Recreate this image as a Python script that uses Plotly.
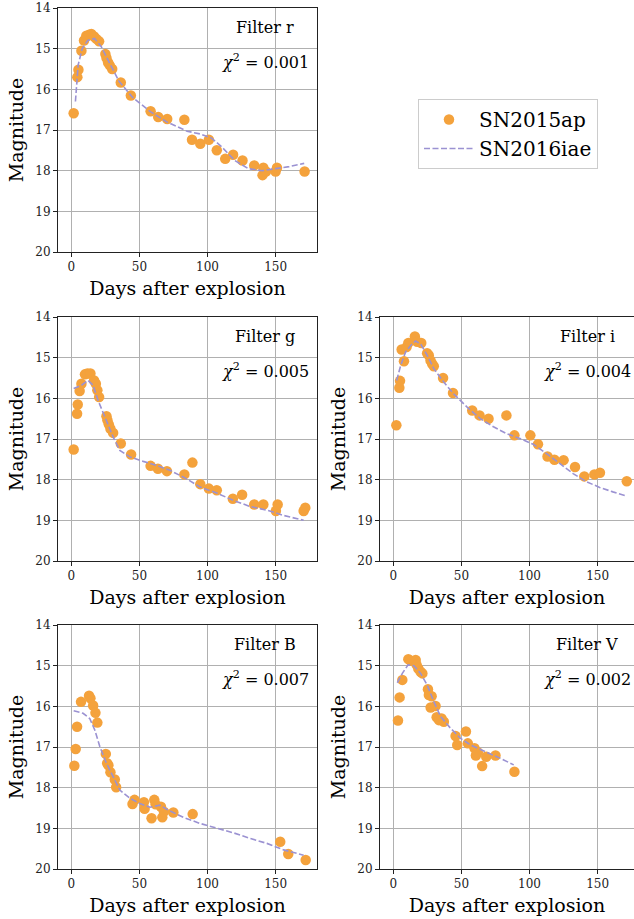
import plotly.graph_objects as go

# SN2015ap observed photometry and SN2016iae template, per filter
r_days = [1.7, 4.4, 5.2, 7.4, 9.3, 11, 13, 14.7, 16.7, 18.4, 20.4, 25, 25.8, 27, 28.2, 30,
          36.3, 43.7, 58.2, 63.8, 70.4, 83, 88.6, 94.7, 101, 106.8, 113, 118.8, 125.7,
          134.3, 140.4, 141, 142.9, 150, 151, 171.3]
r_mag = [16.59, 15.70, 15.52, 15.05, 14.80, 14.68, 14.66, 14.64, 14.70, 14.76, 14.82, 15.13,
         15.23, 15.34, 15.41, 15.50, 15.83, 16.15, 16.54, 16.68, 16.73, 16.75, 17.24, 17.34,
         17.24, 17.50, 17.71, 17.61, 17.75, 17.87, 18.11, 17.93, 18.02, 18.02, 17.93, 18.02]
r_tpl_days = [3, 5, 8, 12, 17, 22, 28, 35, 45, 58, 70, 85, 95, 103, 110, 120, 130, 140, 150, 160, 171]
r_tpl_mag = [16.3, 15.4, 15.0, 14.8, 14.75, 14.95, 15.35, 15.8, 16.2, 16.55, 16.8, 17.03,
             17.1, 17.2, 17.4, 17.75, 17.95, 18.0, 17.95, 17.9, 17.82]

g_days = [1.7, 4.2, 4.7, 6.1, 7.4, 10, 11.8, 14, 16.7, 18, 19.1, 20.4, 25.8, 26.5, 27.5, 28.7,
          30.7, 36.3, 43.9, 58.2, 63.6, 70.2, 83, 88.9, 94.7, 101, 106.8, 118.6, 125.4, 134.3,
          141, 150.2, 151.5, 170.6, 171.8]
g_mag = [17.26, 16.38, 16.15, 15.82, 15.64, 15.41, 15.39, 15.39, 15.56, 15.64, 15.80, 15.97,
         16.44, 16.54, 16.64, 16.75, 16.85, 17.11, 17.38, 17.66, 17.73, 17.79, 17.87, 17.58,
         18.11, 18.22, 18.26, 18.47, 18.37, 18.61, 18.61, 18.77, 18.61, 18.77, 18.69]
g_tpl_days = [1.7, 7.4, 12.3, 16, 19.6, 25.8, 30.7, 35.6, 43, 52.8, 62.6, 72.4, 84.7, 94.5,
              106.8, 119, 131.3, 143.6, 155.9, 170.6]
g_tpl_mag = [15.76, 15.68, 15.56, 15.68, 16.05, 16.54, 16.95, 17.28, 17.44, 17.55, 17.65,
             17.77, 17.98, 18.18, 18.33, 18.51, 18.66, 18.75, 18.88, 19.0]

i_days = [2.2, 4.4, 4.9, 6.1, 7.8, 9.7, 11, 15.8, 17.5, 20.5, 24.8, 26, 27.3, 28.5, 29.7,
          36.5, 43.8, 57.9, 63.3, 69.9, 83, 88.9, 100.6, 106.2, 113.2, 118.3, 125, 133.4,
          140.2, 147.6, 151.7, 171.4]
i_mag = [16.66, 15.74, 15.57, 14.80, 15.09, 14.74, 14.64, 14.48, 14.61, 14.64, 14.89, 14.94,
         15.07, 15.15, 15.21, 15.50, 15.87, 16.30, 16.42, 16.50, 16.42, 16.91, 16.91, 17.13,
         17.43, 17.51, 17.52, 17.69, 17.92, 17.87, 17.83, 18.04]
i_tpl_days = [2.4, 5.4, 9, 12.7, 16.3, 20, 24.8, 29.7, 37, 44.3, 54, 63.8, 73.5, 83.3, 93,
              102.8, 112.5, 122.2, 132, 141.7, 151.5, 161.2, 170.9]
i_tpl_mag = [15.56, 15.19, 14.86, 14.70, 14.59, 14.66, 14.94, 15.27, 15.60, 15.89, 16.21,
             16.50, 16.70, 16.87, 16.99, 17.13, 17.36, 17.60, 17.85, 18.05, 18.19, 18.30, 18.40]

B_days = [2.2, 3.2, 4.2, 7.1, 13, 14, 16, 17.7, 19.1, 25.3, 26.3, 27.2, 28.7, 31.9, 32.9,
          44.9, 46.4, 53.3, 53.8, 58.9, 60.9, 61.9, 65.8, 66.8, 68, 74.9, 89.1, 153.4, 159.3, 172.1]
B_mag = [17.46, 17.05, 16.50, 15.89, 15.74, 15.80, 15.98, 16.16, 16.40, 17.17, 17.40, 17.45,
         17.62, 17.80, 17.99, 18.40, 18.30, 18.36, 18.52, 18.75, 18.30, 18.41, 18.47, 18.73,
         18.59, 18.61, 18.65, 19.33, 19.63, 19.78]
B_tpl_days = [1.7, 8.6, 13.5, 17.2, 20.9, 25.8, 30.7, 35.6, 43, 50.3, 57.7, 65, 70, 82.2,
              94.5, 106.8, 119, 131.3, 143.6, 155.9, 170.6]
B_tpl_mag = [16.11, 16.17, 16.30, 16.58, 16.99, 17.40, 17.73, 18.06, 18.26, 18.39, 18.48,
             18.43, 18.53, 18.73, 18.88, 19.0, 19.11, 19.25, 19.37, 19.53, 19.66]

V_days = [3.4, 4.6, 6.6, 11, 12.7, 16.4, 17.1, 18.3, 20, 21.3, 25.4, 26.1, 28.1, 27.4, 31,
          31.8, 33.5, 35.4, 37.1, 45.7, 46.9, 53.3, 54.7, 59.6, 60.6, 62, 65.2, 68.2, 75, 88.9]
V_mag = [16.35, 15.78, 15.35, 14.84, 14.88, 14.86, 14.98, 15.07, 15.15, 15.19, 15.58, 15.72,
         15.75, 16.03, 15.99, 16.27, 16.34, 16.30, 16.38, 16.73, 16.95, 16.62, 16.91, 17.03,
         17.21, 17.13, 17.47, 17.24, 17.21, 17.61]
V_tpl_days = [2.9, 6.6, 10.8, 15.1, 20, 24.9, 29.8, 34.7, 42, 49.4, 56.7, 64, 71.3, 78.7, 88.4]
V_tpl_mag = [15.42, 15.19, 14.98, 15.0, 15.19, 15.48, 15.89, 16.25, 16.54, 16.79, 16.95,
             17.07, 17.17, 17.28, 17.44]

filters = ["r", "g", "i", "B", "V"]
chi2 = ["0.001", "0.005", "0.004", "0.007", "0.002"]
obs = [(r_days, r_mag), (g_days, g_mag), (i_days, i_mag), (B_days, B_mag), (V_days, V_mag)]
tpl = [(r_tpl_days, r_tpl_mag), (g_tpl_days, g_tpl_mag), (i_tpl_days, i_tpl_mag),
       (B_tpl_days, B_tpl_mag), (V_tpl_days, V_tpl_mag)]

W, H = 634, 919
col_x = {"L": [58 / W, 317 / W], "R": [380 / W, 1.0]}
col_range = {"L": [-9.8, 180.4], "R": [-9.8, 176.7]}
row_y = [[1 - 252 / H, 1 - 8 / H], [1 - 561 / H, 1 - 317 / H], [1 - 869 / H, 1 - 625 / H]]
# (column, row) of each filter panel
place = [("L", 0), ("L", 1), ("R", 1), ("L", 2), ("R", 2)]

orange = "#F4A23C"
lavender = "#9B92D2"
font = "DejaVu Serif"

fig = go.Figure()
for k, f in enumerate(filters):
    n = "" if k == 0 else str(k + 1)
    col, row = place[k]
    fig.add_trace(go.Scatter(x=obs[k][0], y=obs[k][1], mode="markers", name="SN2015ap",
                             marker=dict(color=orange, size=10.5, line=dict(width=0)),
                             xaxis="x" + n, yaxis="y" + n, showlegend=(k == 0)))
    fig.add_trace(go.Scatter(x=tpl[k][0], y=tpl[k][1], mode="lines", name="SN2016iae",
                             line=dict(color=lavender, width=1.6, dash="6px,2.5px"),
                             xaxis="x" + n, yaxis="y" + n, showlegend=(k == 0)))
    ax = dict(domain=col_x[col], range=col_range[col], anchor="y" + n, automargin=False,
              tickvals=[0, 50, 100, 150], showgrid=True, gridcolor="#b0b0b0", gridwidth=0.8,
              zeroline=False, showline=True, linecolor="#222", linewidth=1, mirror=True,
              ticks="outside", ticklen=4, tickcolor="#222",
              tickfont=dict(family=font, size=12, color="#222"),
              title=dict(text="Days after explosion", standoff=8,
                         font=dict(family=font, size=19, color="black")))
    ay = dict(domain=row_y[row], range=[20, 14], anchor="x" + n, automargin=False,
              tickvals=[14, 15, 16, 17, 18, 19, 20], showgrid=True, gridcolor="#b0b0b0",
              gridwidth=0.8, zeroline=False, showline=True, linecolor="#222", linewidth=1,
              mirror=(col == "L"), ticks="outside", ticklen=4, tickcolor="#222",
              tickfont=dict(family=font, size=12, color="#222"),
              title=dict(text="Magnitude", standoff=6,
                         font=dict(family=font, size=19, color="black")))
    fig.layout["xaxis" + n] = ax
    fig.layout["yaxis" + n] = ay
    fig.add_annotation(x=142.4, y=14.49, xref="x" + n, yref="y" + n, showarrow=False,
                       text="Filter " + f, font=dict(family=font, size=16, color="black"))
    fig.add_annotation(x=142.4, y=15.32, xref="x" + n, yref="y" + n, showarrow=False,
                       text="<i>χ</i><sup>2</sup> = " + chi2[k],
                       font=dict(family=font, size=16, color="black"))

fig.update_layout(
    width=W, height=H, margin=dict(l=0, r=0, t=0, b=0, autoexpand=False),
    plot_bgcolor="white", paper_bgcolor="white",
    legend=dict(x=418 / W, y=1 - 99 / H, xanchor="left", yanchor="top",
                bordercolor="#cccccc", borderwidth=1, bgcolor="white", itemwidth=50,
                font=dict(family=font, size=20, color="black"), tracegroupgap=0),
)
# drop the page's default body margin so the figure sits at the window's corner
fig.write_html("out.html", config={"displayModeBar": False},
               post_script="document.body.style.margin='0';document.body.style.overflow='hidden';")
